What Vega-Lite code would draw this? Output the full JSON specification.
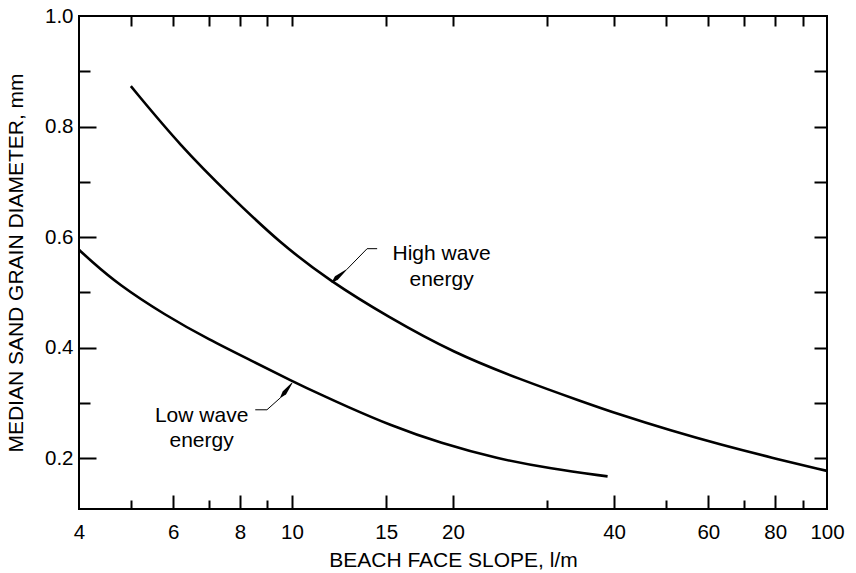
{
  "$schema": "https://vega.github.io/schema/vega-lite/v6.json",
  "autosize": "none",
  "width": 748,
  "height": 493,
  "padding": {"left": 79, "top": 16, "right": 29, "bottom": 64},
  "background": "white",
  "config": {
    "view": {"stroke": "black", "strokeWidth": 2},
    "font": "Liberation Sans",
    "axis": {"grid": false, "domain": false, "tickColor": "black", "tickWidth": 2, "labelColor": "black", "titleColor": "black", "labelFont": "Liberation Sans", "titleFont": "Liberation Sans", "labelFontSize": 20.5, "titleFontSize": 21, "titleFontWeight": "normal"}
  },
  "datasets": {
    "high": [
      {"slope": 5.0, "d": 0.873}, {"slope": 6.2, "d": 0.764}, {"slope": 7.7, "d": 0.673},
      {"slope": 9.5, "d": 0.589}, {"slope": 11.8, "d": 0.520}, {"slope": 15.1, "d": 0.456},
      {"slope": 20.1, "d": 0.390}, {"slope": 26.8, "d": 0.342}, {"slope": 34.7, "d": 0.303},
      {"slope": 41.2, "d": 0.278}, {"slope": 51, "d": 0.250}, {"slope": 63.4, "d": 0.224},
      {"slope": 78.6, "d": 0.201}, {"slope": 100, "d": 0.177}
    ],
    "low": [
      {"slope": 4.0, "d": 0.577}, {"slope": 4.19, "d": 0.559}, {"slope": 4.74, "d": 0.514},
      {"slope": 5.79, "d": 0.459}, {"slope": 6.98, "d": 0.415}, {"slope": 8.54, "d": 0.373},
      {"slope": 9.93, "d": 0.341}, {"slope": 11.55, "d": 0.311}, {"slope": 12.5, "d": 0.296},
      {"slope": 15.28, "d": 0.259}, {"slope": 18.96, "d": 0.227}, {"slope": 24.2, "d": 0.199},
      {"slope": 30.45, "d": 0.181}, {"slope": 38.9, "d": 0.167}
    ],
    "leaders": [
      {"g": "high", "o": 1, "slope": 14.43, "d": 0.579},
      {"g": "high", "o": 2, "slope": 13.82, "d": 0.579},
      {"g": "high", "o": 3, "slope": 12.68, "d": 0.542},
      {"g": "low", "o": 1, "slope": 8.54, "d": 0.2875},
      {"g": "low", "o": 2, "slope": 8.98, "d": 0.2875},
      {"g": "low", "o": 3, "slope": 9.51, "d": 0.309}
    ],
    "heads": [
      {"g": "high", "o": 1, "slope": 12.68, "d": 0.542, "w": 0.6},
      {"g": "high", "o": 2, "slope": 12.11, "d": 0.526, "w": 4.5},
      {"g": "high", "o": 3, "slope": 11.89, "d": 0.518, "w": 1},
      {"g": "low", "o": 1, "slope": 9.51, "d": 0.309, "w": 0.6},
      {"g": "low", "o": 2, "slope": 9.68, "d": 0.318, "w": 4.5},
      {"g": "low", "o": 3, "slope": 9.996, "d": 0.3355, "w": 1}
    ],
    "labels": [
      {"slope": 19.04, "d": 0.570, "t": "High wave"},
      {"slope": 19.04, "d": 0.523, "t": "energy"},
      {"slope": 6.78, "d": 0.2766, "t": "Low wave"},
      {"slope": 6.78, "d": 0.231, "t": "energy"}
    ]
  },
  "resolve": {"axis": {"x": "independent", "y": "independent"}},
  "layer": [
    {
      "data": {"name": "high"},
      "mark": {"type": "line", "color": "black", "strokeWidth": 2.6, "interpolate": "basis"},
      "encoding": {
        "x": {"field": "slope", "type": "quantitative", "scale": {"type": "log", "domain": [4, 100], "nice": false},
              "axis": {"orient": "bottom", "values": [4, 6, 8, 10, 15, 20, 40, 60, 80, 100], "ticks": false, "labelPadding": 13, "format": "~g", "title": "BEACH FACE SLOPE, l/m", "titlePadding": 7, "labelFlush": false}},
        "y": {"field": "d", "type": "quantitative", "scale": {"domain": [0.108, 1.0], "nice": false, "zero": false},
              "axis": {"orient": "left", "values": [0.2, 0.4, 0.6, 0.8, 1.0], "ticks": false, "labelPadding": 6, "format": ".1f", "title": "MEDIAN SAND GRAIN DIAMETER, mm", "titlePadding": 18, "labelFlush": false}}
      }
    },
    {
      "data": {"name": "low"},
      "mark": {"type": "line", "color": "black", "strokeWidth": 2.6, "interpolate": "basis"},
      "encoding": {
        "x": {"field": "slope", "type": "quantitative",
              "axis": {"orient": "bottom", "values": [6, 8, 10, 15, 20, 40, 60, 80], "labels": false, "tickSize": -14, "title": null}},
        "y": {"field": "d", "type": "quantitative",
              "axis": {"orient": "left", "values": [0.2, 0.4, 0.6, 0.8], "labels": false, "tickSize": -17, "title": null}}
      }
    },
    {
      "data": {"name": "leaders"},
      "mark": {"type": "line", "color": "black", "strokeWidth": 1},
      "encoding": {
        "x": {"field": "slope", "type": "quantitative",
              "axis": {"orient": "bottom", "values": [5, 7, 9, 30, 50, 70, 90], "labels": false, "tickSize": -9, "title": null}},
        "y": {"field": "d", "type": "quantitative",
              "axis": {"orient": "left", "values": [0.3, 0.5, 0.7, 0.9], "labels": false, "tickSize": -11, "title": null}},
        "detail": {"field": "g"},
        "order": {"field": "o"}
      }
    },
    {
      "data": {"name": "heads"},
      "mark": {"type": "trail", "color": "black"},
      "encoding": {
        "x": {"field": "slope", "type": "quantitative",
              "axis": {"orient": "top", "values": [5, 6, 7, 8, 9, 10, 15, 20, 30, 40, 50, 60, 70, 80, 90], "labels": false, "tickSize": -10, "title": null}},
        "y": {"field": "d", "type": "quantitative",
              "axis": {"orient": "right", "values": [0.2, 0.3, 0.4, 0.5, 0.6, 0.7, 0.8, 0.9], "labels": false, "tickSize": -13, "title": null}},
        "detail": {"field": "g"},
        "order": {"field": "o"},
        "size": {"field": "w", "type": "quantitative", "scale": null, "legend": null}
      }
    },
    {
      "data": {"name": "labels"},
      "mark": {"type": "text", "color": "black", "fontSize": 21, "font": "Liberation Sans", "align": "center", "baseline": "middle"},
      "encoding": {
        "x": {"field": "slope", "type": "quantitative", "axis": null},
        "y": {"field": "d", "type": "quantitative", "axis": null},
        "text": {"field": "t"}
      }
    }
  ]
}
